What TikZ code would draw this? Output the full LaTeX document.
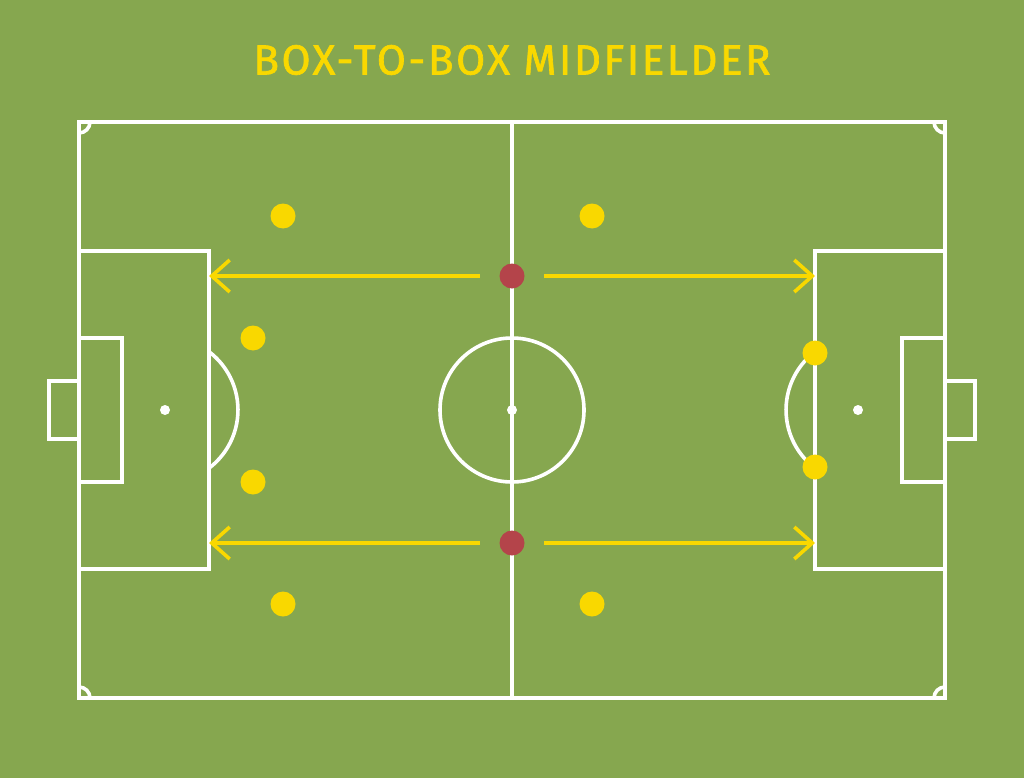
\documentclass[tikz,border=0pt]{standalone}
\usepackage{fontspec}
\setmainfont{Fira Sans}
\usetikzlibrary{arrows.meta}
\definecolor{grass}{HTML}{86A74F}
\definecolor{ylw}{HTML}{F9D800}
\definecolor{redp}{HTML}{B4444A}
\tikzset{
  pitch/.style={draw=white, line width=3.6pt},
  yplayer/.style={circle, fill=ylw, minimum size=25pt, inner sep=0pt},
  rplayer/.style={circle, fill=redp, minimum size=25pt, inner sep=0pt},
  spot/.style={circle, fill=white, minimum size=10pt, inner sep=0pt},
  run/.style={draw=ylw, line width=3.6pt, -{Straight Barb[length=18pt,width=32pt,line width=3.6pt]}},
}
\begin{document}
\begin{tikzpicture}[x=1pt,y=-1pt]
\fill[grass] (0,0) rectangle (1024,778);
\useasboundingbox (0,0) rectangle (1024,778);
\node[text=ylw, font=\fontsize{42}{50}\selectfont\addfontfeatures{LetterSpace=6.2,FakeBold=1.6}] (title) at (512,60) {BOX-TO-BOX MIDFIELDER};
% pitch
\draw[pitch] (79,122) rectangle (945,698);
\draw[pitch] (512,122) -- (512,698);
\draw[pitch] (512,410) circle (72);
% left
\draw[pitch] (79,251) rectangle (209,569);
\draw[pitch] (79,338) rectangle (122,482);
\draw[pitch] (79,381) -- (49,381) -- (49,439) -- (79,439);
\draw[pitch] (209,351.7) arc[start angle=-52.9, end angle=52.9, radius=73];
% right
\draw[pitch] (815,351.7) arc[start angle=232.9, end angle=127.1, radius=73];
\draw[pitch] (815,251) rectangle (945,569);
\draw[pitch] (945,338) rectangle (902,482);
\draw[pitch] (945,381) -- (975,381) -- (975,439) -- (945,439);
% corners
\draw[pitch] (90,122) arc[start angle=0, end angle=90, radius=11];
\draw[pitch] (934,122) arc[start angle=180, end angle=90, radius=11];
\draw[pitch] (90,698) arc[start angle=0, end angle=-90, radius=11];
\draw[pitch] (934,698) arc[start angle=180, end angle=270, radius=11];
% spots
\node[spot] (c) at (512,410) {};
\node[spot] (pl) at (165,410) {};
\node[spot] (pr) at (858,410) {};
% arrows
\coordinate (tl) at (209,276);
\coordinate (tr) at (815,276);
\coordinate (bl) at (209,543);
\coordinate (br) at (815,543);
\coordinate (tls) at (480,276);
\coordinate (trs) at (544,276);
\coordinate (bls) at (480,543);
\coordinate (brs) at (544,543);
\draw[run] (tls) -- (tl);
\draw[run] (trs) -- (tr);
\draw[run] (bls) -- (bl);
\draw[run] (brs) -- (br);
% players
\node[rplayer] (r1) at (512,276) {};
\node[rplayer] (r2) at (512,543) {};
\node[yplayer] (y1) at (283,216) {};
\node[yplayer] (y2) at (592,216) {};
\node[yplayer] (y3) at (253,338) {};
\node[yplayer] (y4) at (253,482) {};
\node[yplayer] (y5) at (283,604) {};
\node[yplayer] (y6) at (592,604) {};
\node[yplayer] (y7) at (815,353) {};
\node[yplayer] (y8) at (815,467) {};
\end{tikzpicture}
\end{document}
